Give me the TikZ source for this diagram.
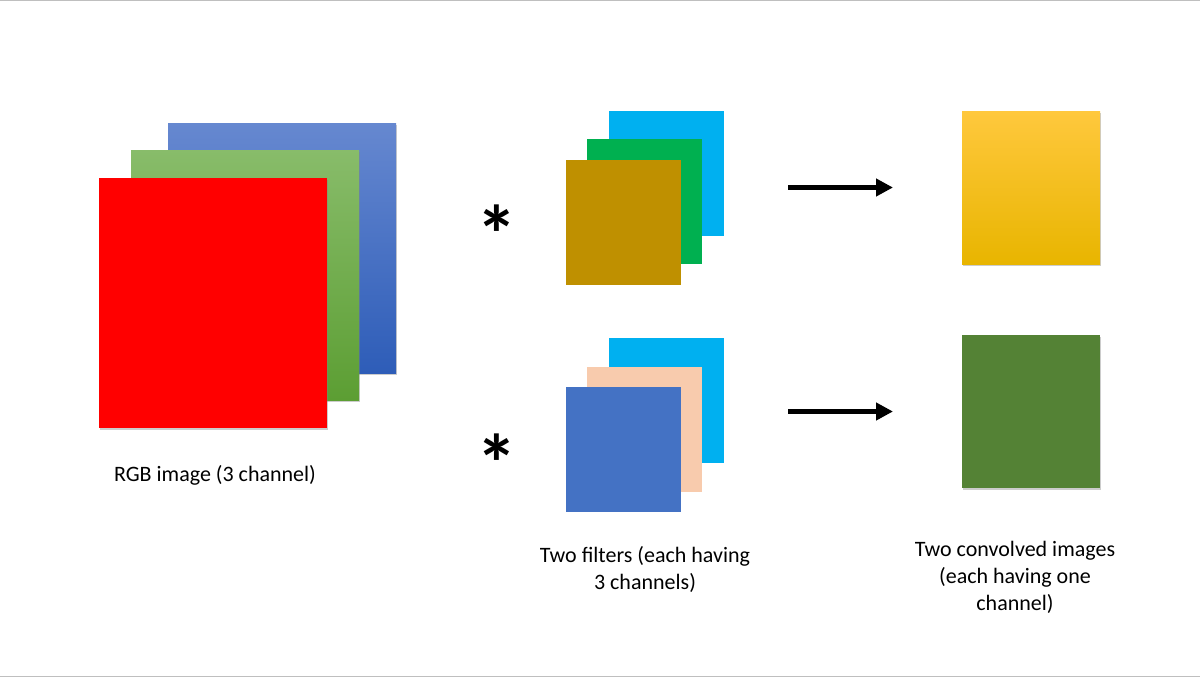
\documentclass[tikz,border=0pt]{standalone}
\usepackage{fontspec}
\setmainfont{Carlito}
\usetikzlibrary{arrows.meta,shadows}

\definecolor{chanblueT}{HTML}{6688D0}
\definecolor{chanblueB}{HTML}{2E5DB8}
\definecolor{changreenT}{HTML}{88BC6A}
\definecolor{changreenB}{HTML}{5C9E33}
\definecolor{filtcyan}{HTML}{00B0F0}
\definecolor{filtgreen}{HTML}{00B050}
\definecolor{filtgold}{HTML}{BF9000}
\definecolor{filtpeach}{HTML}{F8CBAD}
\definecolor{filtblue}{HTML}{4472C4}
\definecolor{outgreen}{HTML}{548235}
\definecolor{outyellowT}{HTML}{FFC83D}
\definecolor{outyellowM}{HTML}{FFC000}
\definecolor{outyellowB}{HTML}{E8B500}

\tikzset{
	layer/.style={anchor=north west, inner sep=0pt, outer sep=0pt},
	chan/.style={layer, minimum width=228pt, minimum height=250pt,
		drop shadow={shadow xshift=1pt, shadow yshift=-1.5pt, opacity=0.4}},
	filt/.style={layer, minimum width=115pt, minimum height=125pt},
	outimg/.style={layer, minimum width=138pt, minimum height=153pt,
		drop shadow={shadow xshift=1pt, shadow yshift=-1.5pt, opacity=0.4}},
	lbl/.style={align=center, font=\fontsize{22}{27}\selectfont},
	star/.style={font=\fontsize{82}{82}\selectfont\bfseries, inner sep=0pt},
	arr/.style={line width=5pt, -{Triangle[length=17pt,width=17pt]}}
}

\begin{document}
\begin{tikzpicture}[x=1pt, y=-1pt]
		%%%%% START %%%%%
		\useasboundingbox (0, 0) rectangle (1200, 677);
		\draw[line width=1.5pt, color=black!25] (0, 0.75) -- (1200, 0.75);
		\draw[line width=1.5pt, color=black!25] (0, 676.25) -- (1200, 676.25);
		
		% input image, three channels
		\node[chan, top color=chanblueT, bottom color=chanblueB] (chB) at (168, 123) {};
		\node[chan, top color=changreenT, bottom color=changreenB] (chG) at (131, 150) {};
		\node[chan, fill=red] (chR) at (99, 178) {};
		\node[lbl] (rgblbl) at (215, 475) {RGB image (3 channel)};
		
		% first filter
		\node[filt, fill=filtcyan] (fA3) at (609, 111) {};
		\node[filt, fill=filtgreen] (fA2) at (587, 139) {};
		\node[filt, fill=filtgold] (fA1) at (566, 160) {};
		\node[star] (starA) at (497, 234) {*};
		
		% second filter
		\node[filt, fill=filtcyan] (fB3) at (609, 338) {};
		\node[filt, fill=filtpeach] (fB2) at (587, 367) {};
		\node[filt, fill=filtblue] (fB1) at (566, 387) {};
		\node[star] (starB) at (497, 463) {*};
		
		\node[lbl] (filtlbl) at (645, 569) {Two filters (each having\\3 channels)};
		
		% convolved outputs
		\node[outimg, top color=outyellowT, middle color=outyellowM, bottom color=outyellowB] (outA) at (962, 111) {};
		\node[outimg, fill=outgreen] (outB) at (962, 335) {};
		\node[lbl] (outlbl) at (1015, 577) {Two convolved images\\(each having one\\channel)};
		
		\draw[arr, shorten <=64pt, shorten >=69pt] (fA3.east |- outA.west) -- (outA.west);
		\draw[arr, shorten <=64pt, shorten >=69pt] (fB3.east |- outB.west) -- (outB.west);
		%%%%% END %%%%%
	\end{tikzpicture}
\end{document}
